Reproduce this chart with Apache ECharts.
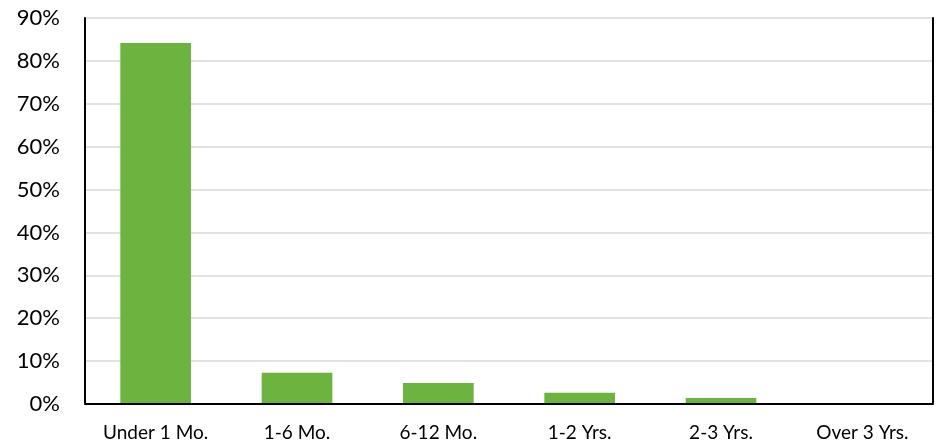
<!DOCTYPE html>
<html><head><meta charset="utf-8">
<script src="https://cdn.jsdelivr.net/npm/echarts@6/dist/echarts.min.js"></script>
<style>html,body{margin:0;padding:0;background:#fff}#c{width:936px;height:444px}</style>
</head><body><div id="c"></div>
<script>
const categories = ["Under 1 Mo.", "1-6 Mo.", "6-12 Mo.", "1-2 Yrs.", "2-3 Yrs.", "Over 3 Yrs."];
const values = [84.2, 7.3, 4.9, 2.6, 1.4, 0];
const yTicks = [0, 10, 20, 30, 40, 50, 60, 70, 80, 90];

const yMin = yTicks[0], yMax = yTicks[yTicks.length - 1];
const chart = echarts.init(document.getElementById('c'));
chart.setOption({
  animation: false,
  grid: {left: 85, right: 3, top: 18, bottom: 40},
  xAxis: [{
    type: 'category', data: categories, position: 'bottom',
    axisLine: {show: true, lineStyle: {color: '#bfbfbf', width: 2}},
    axisTick: {show: false},
    axisLabel: {color: '#000', fontFamily: 'Lato', fontSize: 19, margin: 19},
    z: 3
  }, {
    type: 'category', data: categories, position: 'top',
    axisLine: {show: true, lineStyle: {color: '#000', width: 2}},
    axisTick: {show: false}, axisLabel: {show: false}, z: 3
  }],
  yAxis: [{
    type: 'value', min: yMin, max: yMax, interval: 10, position: 'left',
    axisLine: {show: true, lineStyle: {color: '#000', width: 2}}, axisTick: {show: false},
    splitLine: {lineStyle: {color: '#d9d9d9', width: 1.5}},
    axisLabel: {color: '#000', fontFamily: 'Lato', fontSize: 22, margin: 25, formatter: v => v + '%'}
  }, {
    type: 'value', min: yMin, max: yMax, interval: 10, position: 'right',
    axisLine: {show: true, lineStyle: {color: '#000', width: 2}}, axisTick: {show: false},
    splitLine: {show: false}, axisLabel: {show: false}
  }],
  series: [{
    type: 'bar', data: values, barWidth: '50%', xAxisIndex: 0, yAxisIndex: 0,
    itemStyle: {color: '#6db33f'}
  }]
});
</script></body></html>
